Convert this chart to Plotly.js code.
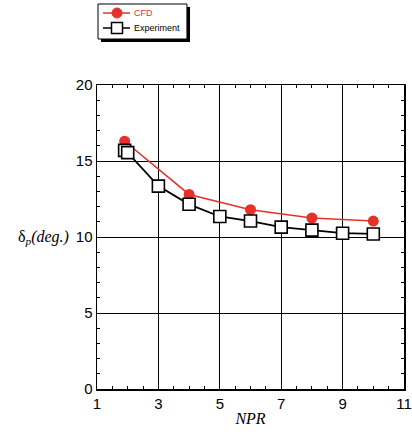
<!DOCTYPE html>
<html><head><meta charset="utf-8">
<script src="https://cdn.plot.ly/plotly-3.0.1.min.js"></script>
<style>html,body{margin:0;padding:0;background:#fff}#c{width:412px;height:439px}</style>
</head><body><div id="c"></div>
<script>
const cfdNPR = [1.9, 4, 6, 8, 10];
const cfdDelta = [16.3, 12.8, 11.8, 11.25, 11.05];
const expNPR = [1.9, 2, 3, 4, 5, 6, 7, 8, 9, 10];
const expDelta = [15.7, 15.55, 13.35, 12.15, 11.35, 11.05, 10.65, 10.45, 10.25, 10.2];
const xTicks = [1, 3, 5, 7, 9, 11];
const yTicks = [0, 5, 10, 15, 20];
const seriesNames = ['CFD', 'Experiment'];

const red = '#e8302a';
const traces = [
  {x: cfdNPR, y: cfdDelta, name: seriesNames[0], mode: 'lines+markers',
   line: {color: red, width: 1.5}, marker: {symbol: 'circle', size: 11, color: red}},
  {x: expNPR, y: expDelta, name: seriesNames[1], mode: 'lines+markers',
   line: {color: '#000', width: 1.8}, marker: {symbol: 'square', size: 12, color: '#fff', line: {color: '#000', width: 1.6}}}
];
const axBase = {showline: true, linecolor: '#000', linewidth: 1.5, mirror: 'allticks', showgrid: true, gridcolor: '#000', gridwidth: 1,
  zeroline: false, ticks: 'inside', ticklen: 5, tickcolor: '#000', tickfont: {family: 'Liberation Sans, Arial', size: 15, color: '#000'}};

// legend box drawn as layout decoration (paper coordinates)
const P = {type: 'rect', xref: 'paper', yref: 'paper'};
const legendShapes = [
  Object.assign({}, P, {x0: 0.013, x1: 0.303, y0: 1.1414, y1: 1.2566, fillcolor: '#000', line: {width: 0}}),
  Object.assign({}, P, {x0: 0.0033, x1: 0.293, y0: 1.1513, y1: 1.2664, fillcolor: '#fff', line: {color: '#000', width: 1}}),
  {type: 'line', xref: 'paper', yref: 'paper', x0: 0.0195, x1: 0.1075, y0: 1.2368, y1: 1.2368, line: {color: red, width: 1.5}},
  {type: 'circle', xref: 'paper', yref: 'paper', x0: 0.0489, x1: 0.0814, y0: 1.2204, y1: 1.2533, fillcolor: red, line: {color: red, width: 1}},
  {type: 'line', xref: 'paper', yref: 'paper', x0: 0.0195, x1: 0.1075, y0: 1.1875, y1: 1.1875, line: {color: '#000', width: 1.5}},
  Object.assign({}, P, {x0: 0.0472, x1: 0.0831, y0: 1.1694, y1: 1.2056, fillcolor: '#fff', line: {color: '#000', width: 1.5}})
];

const layout = {
  width: 412, height: 439, margin: {l: 97, r: 8, t: 85, b: 50}, paper_bgcolor: '#fff', plot_bgcolor: '#fff',
  xaxis: Object.assign({}, axBase, {range: [1, 11], tickvals: xTicks, ticktext: xTicks.map(String),
    minor: {dtick: 0.5, tick0: 1, ticks: 'inside', ticklen: 3, tickcolor: '#000', showgrid: false},
    title: {text: '<i>NPR</i>', font: {family: 'Liberation Serif, Times New Roman', size: 16, color: '#000'}, standoff: 2}}),
  yaxis: Object.assign({}, axBase, {range: [0, 20], tickvals: yTicks, ticktext: yTicks.map(String),
    minor: {dtick: 1, tick0: 0, ticks: 'inside', ticklen: 3, tickcolor: '#000', showgrid: false}}),
  showlegend: false,
  shapes: legendShapes,
  annotations: [
    {xref: 'paper', yref: 'y', x: -0.085, y: 10, xanchor: 'right', yanchor: 'middle', showarrow: false,
     text: 'δ<sub><i>p</i></sub><i>(deg.)</i>', font: {family: 'Liberation Serif, Times New Roman', size: 16, color: '#000'}},
    {xref: 'paper', yref: 'paper', x: 0.114, y: 1.2368, xanchor: 'left', yanchor: 'middle', showarrow: false,
     text: seriesNames[0], font: {family: 'Liberation Sans, Arial', size: 9, color: red}},
    {xref: 'paper', yref: 'paper', x: 0.114, y: 1.1875, xanchor: 'left', yanchor: 'middle', showarrow: false,
     text: seriesNames[1], font: {family: 'Liberation Sans, Arial', size: 9, color: '#000'}}
  ]
};
Plotly.newPlot('c', traces, layout, {displayModeBar: false, staticPlot: true});
</script></body></html>
